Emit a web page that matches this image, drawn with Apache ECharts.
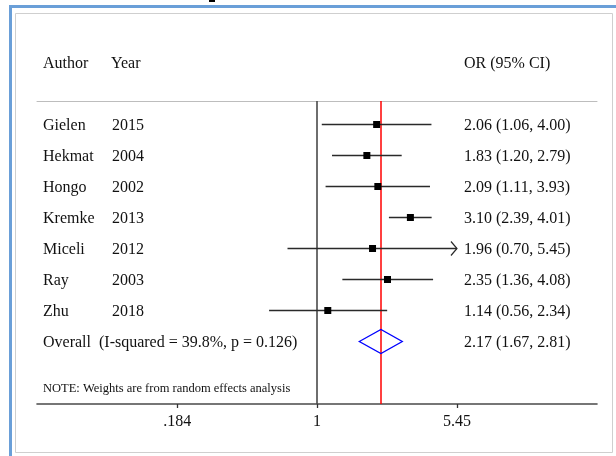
<!DOCTYPE html>
<html>
<head>
<meta charset="utf-8">
<script src="https://cdn.jsdelivr.net/npm/echarts@6/dist/echarts.min.js"></script>
<style>
html, body { margin: 0; padding: 0; background: #fff; }
#main { width: 616px; height: 456px; }
</style>
</head>
<body>
<div id="main"></div>
<script>
// study rows
var authors = ['Gielen', 'Hekmat', 'Hongo', 'Kremke', 'Miceli', 'Ray', 'Zhu'];
var years = ['2015', '2004', '2002', '2013', '2012', '2003', '2018'];
var orValues = [2.06, 1.83, 2.09, 3.10, 1.96, 2.35, 1.14];
var ciLow = [1.06, 1.20, 1.11, 2.39, 0.70, 1.36, 0.56];
var ciHigh = [4.00, 2.79, 3.93, 4.01, 5.45, 4.08, 2.34];

// pooled estimate
var overallLabel = 'Overall  (I-squared = 39.8%, p = 0.126)';
var overallOR = 2.17;
var overallLow = 1.67;
var overallHigh = 2.81;

// x axis ticks
var tickValues = [0.184, 1, 5.45];
var tickLabels = ['.184', '1', '5.45'];

var FONT = '"Liberation Serif", "DejaVu Serif", serif';
var TXT = '#111';
var chart = echarts.init(document.getElementById('main'));

function fmtCI(o, l, h) {
    return o.toFixed(2) + ' (' + l.toFixed(2) + ', ' + h.toFixed(2) + ')';
}

var studyData = authors.map(function (a, i) {
    return [i, orValues[i], ciLow[i], ciHigh[i]];
});
var rowData = authors.map(function (a, i) { return [i, 1]; });
rowData.push([authors.length, 1]);

function renderStudy(params, api) {
    var i = api.value(0);
    var p = api.coord([api.value(1), i]);
    var lo = api.coord([api.value(2), i]);
    var hi = api.coord([api.value(3), i]);
    var s = 7;
    var kids = [
        { type: 'line', shape: { x1: lo[0], y1: lo[1], x2: hi[0], y2: hi[1] },
          style: { stroke: '#2a2a2a', lineWidth: 1.3 } },
        { type: 'rect', shape: { x: p[0] - s / 2, y: p[1] - s / 2, width: s, height: s },
          style: { fill: '#000' } }
    ];
    // CI reaching the last tick gets an arrow head
    if (api.value(3) >= tickValues[tickValues.length - 1]) {
        kids.push({ type: 'polyline',
            shape: { points: [[hi[0] - 6, hi[1] - 7], [hi[0], hi[1]], [hi[0] - 6, hi[1] + 7]] },
            style: { stroke: '#2a2a2a', lineWidth: 1.2, fill: null } });
    }
    return { type: 'group', children: kids };
}

function renderDiamond(params, api) {
    var r = api.value(0);
    var c = api.coord([api.value(1), r]);
    var l = api.coord([api.value(2), r]);
    var h = api.coord([api.value(3), r]);
    var hh = 12;
    return {
        type: 'polygon',
        shape: { points: [[l[0], c[1]], [c[0], c[1] - hh], [h[0], c[1]], [c[0], c[1] + hh]] },
        style: { stroke: '#0000ff', lineWidth: 1.3, fill: null }
    };
}

function renderRowText(params, api) {
    var i = api.value(0);
    var y = api.coord([1, i])[1] + 1.5;
    var st = { font: '16px ' + FONT, fill: TXT, verticalAlign: 'middle' };
    if (i >= authors.length) {
        return { type: 'group', children: [
            { type: 'text', x: 43, y: y, style: Object.assign({ text: overallLabel }, st) },
            { type: 'text', x: 464, y: y, style: Object.assign({ text: fmtCI(overallOR, overallLow, overallHigh) }, st) }
        ] };
    }
    return { type: 'group', children: [
        { type: 'text', x: 43, y: y, style: Object.assign({ text: authors[i] }, st) },
        { type: 'text', x: 112, y: y, style: Object.assign({ text: years[i] }, st) },
        { type: 'text', x: 464, y: y, style: Object.assign({ text: fmtCI(orValues[i], ciLow[i], ciHigh[i]) }, st) }
    ] };
}

chart.setOption({
    animation: false,
    backgroundColor: '#fff',
    grid: { left: 37, right: 19, top: 101, bottom: 52 },
    xAxis: [{
        type: 'log',
        logBase: Math.E,
        min: 0.0337,
        max: 29.7,
        position: 'bottom',
        axisLine: { show: true, onZero: false, lineStyle: { color: '#4a4a4a', width: 1.6 } },
        axisTick: { show: true, customValues: tickValues, length: 4, lineStyle: { color: '#333', width: 1.3 } },
        axisLabel: {
            customValues: tickValues,
            margin: 10,
            color: TXT,
            fontFamily: FONT,
            fontSize: 16,
            formatter: function (v) {
                var k = 0, best = Infinity;
                tickValues.forEach(function (t, j) {
                    var d = Math.abs(Math.log(t) - Math.log(v));
                    if (d < best) { best = d; k = j; }
                });
                return tickLabels[k];
            }
        },
        splitLine: { show: false }
    }, {
        type: 'value',
        position: 'top',
        axisLine: { show: true, onZero: false, lineStyle: { color: '#bdbdbd', width: 1 } },
        axisTick: { show: false },
        axisLabel: { show: false },
        splitLine: { show: false }
    }],
    yAxis: {
        type: 'value',
        inverse: true,
        min: -0.758,
        max: 9.016,
        show: false
    },
    graphic: [
        { type: 'rect', shape: { x: 9, y: 5, width: 3, height: 451 }, style: { fill: '#6a9fd8' } },
        { type: 'rect', shape: { x: 9, y: 5, width: 607, height: 3 }, style: { fill: '#6a9fd8' } },
        { type: 'rect', shape: { x: 209, y: 0, width: 6, height: 2 }, style: { fill: '#000' } },
        { type: 'rect', shape: { x: 15.5, y: 13.5, width: 597, height: 439 },
          style: { fill: null, stroke: '#cfcfcf', lineWidth: 1 } },
        { type: 'text', x: 43, y: 64, style: { text: 'Author', font: '16px ' + FONT, fill: TXT, verticalAlign: 'middle' } },
        { type: 'text', x: 111, y: 64, style: { text: 'Year', font: '16px ' + FONT, fill: TXT, verticalAlign: 'middle' } },
        { type: 'text', x: 464, y: 64, style: { text: 'OR (95% CI)', font: '16px ' + FONT, fill: TXT, verticalAlign: 'middle' } },
        { type: 'text', x: 43, y: 389, style: { text: 'NOTE: Weights are from random effects analysis', font: '12.5px ' + FONT, fill: TXT, verticalAlign: 'middle' } }
    ],
    series: [{
        type: 'custom',
        name: 'rows',
        renderItem: renderRowText,
        data: rowData,
        encode: { x: 1, y: 0 },
        silent: true
    }, {
        type: 'custom',
        name: 'studies',
        renderItem: renderStudy,
        data: studyData,
        encode: { x: [1, 2, 3], y: 0 },
        z: 5,
        markLine: {
            silent: true,
            symbol: 'none',
            label: { show: false },
            lineStyle: { color: '#4a4a4a', width: 1.6, type: 'solid' },
            data: [{ xAxis: 1 }]
        }
    }, {
        type: 'custom',
        name: 'overall',
        renderItem: renderDiamond,
        data: [[authors.length, overallOR, overallLow, overallHigh]],
        encode: { x: [1, 2, 3], y: 0 },
        z: 6,
        markLine: {
            silent: true,
            symbol: 'none',
            label: { show: false },
            lineStyle: { color: '#ff0000', width: 1.5, opacity: 1, type: 'solid' },
            data: [{ xAxis: overallOR }]
        }
    }]
});
</script>
</body>
</html>
